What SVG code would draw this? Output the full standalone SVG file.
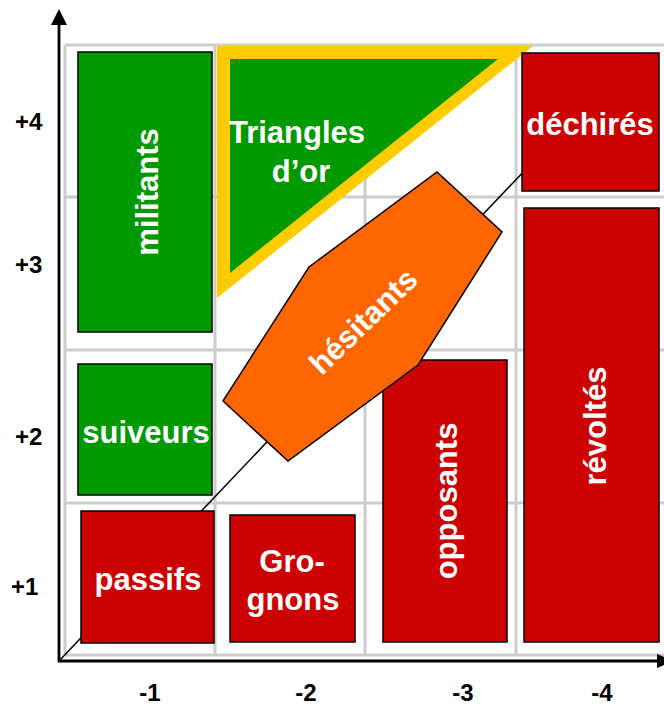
<svg xmlns="http://www.w3.org/2000/svg" width="664" height="707" viewBox="0 0 664 707">
<style>
.grid{stroke:#cccccc;stroke-width:3;fill:none}
.axis{stroke:#000;stroke-width:2.8;fill:none}
.box{stroke:#000;stroke-width:1.5}
.g{fill:#009900}
.r{fill:#cc0000}
.lbl{font-family:"Liberation Sans",Arial,sans-serif;font-weight:bold;font-size:31px;fill:#fff;text-anchor:middle}
.ax{font-family:"Liberation Sans",Arial,sans-serif;font-weight:bold;font-size:24px;fill:#000}
</style>
<rect width="664" height="707" fill="#fff"/>
<g id="grid">
<path class="grid" d="M65,45V655M215,45V655M365,45V655M516,45V655M65,45H664M65,197H664M65,350H664M65,503H664M65,655H664"/>
</g>
<g id="axes">
<path class="axis" d="M59,662V22M58,661H660"/>
<polygon points="59,9 51,25 67,25" fill="#000"/>
<polygon points="657,654 657,668 673,661" fill="#000"/>
<text class="ax" x="15" y="130">+4</text>
<text class="ax" x="15" y="273">+3</text>
<text class="ax" x="15" y="445">+2</text>
<text class="ax" x="11" y="595">+1</text>
<text class="ax" x="150" y="701" text-anchor="middle">-1</text>
<text class="ax" x="306" y="701" text-anchor="middle">-2</text>
<text class="ax" x="463" y="701" text-anchor="middle">-3</text>
<text class="ax" x="602" y="701" text-anchor="middle">-4</text>
</g>
<g id="connectors">
<line x1="59" y1="661" x2="528" y2="167" stroke="#000" stroke-width="1.5"/>
</g>
<g id="militants">
<rect class="box g" x="78" y="52" width="134" height="280"/>
<text class="lbl" transform="translate(158,192) rotate(-90)">militants</text>
</g>
<g id="triangles">
<polygon points="217,46 533,46 217,298" fill="#ffcc00"/>
<polygon points="230,59 498,59 230,273" fill="#009900"/>
<text class="lbl" x="297" y="143">Triangles</text>
<text class="lbl" x="301" y="182">d’or</text>
</g>
<g id="dechires">
<rect class="box r" x="522" y="53" width="137" height="138"/>
<text class="lbl" x="590" y="135">déchirés</text>
</g>
<g id="revoltes">
<rect class="box r" x="524" y="208" width="135" height="434"/>
<text class="lbl" transform="translate(606,426) rotate(-90)">révoltés</text>
</g>
<g id="opposants">
<rect class="box r" x="383" y="360" width="124" height="282"/>
<text class="lbl" transform="translate(457,501) rotate(-90)">opposants</text>
</g>
<g id="suiveurs">
<rect class="box g" x="78" y="364" width="134" height="131"/>
<text class="lbl" x="146" y="443">suiveurs</text>
</g>
<g id="passifs">
<rect class="box r" x="81" y="511" width="133" height="132"/>
<text class="lbl" x="148" y="590">passifs</text>
</g>
<g id="grognons">
<rect class="box r" x="230" y="515" width="125" height="127"/>
<text class="lbl" x="292" y="572">Gro-</text>
<text class="lbl" x="293" y="610">gnons</text>
</g>
<g id="hesitants">
<polygon class="box" fill="#ff6600" points="437,172 502,232 418,365 288,461 223,401 309,267"/>
<text class="lbl" transform="translate(363,321) rotate(-44)" x="0" y="11">hésitants</text>
</g>
</svg>
